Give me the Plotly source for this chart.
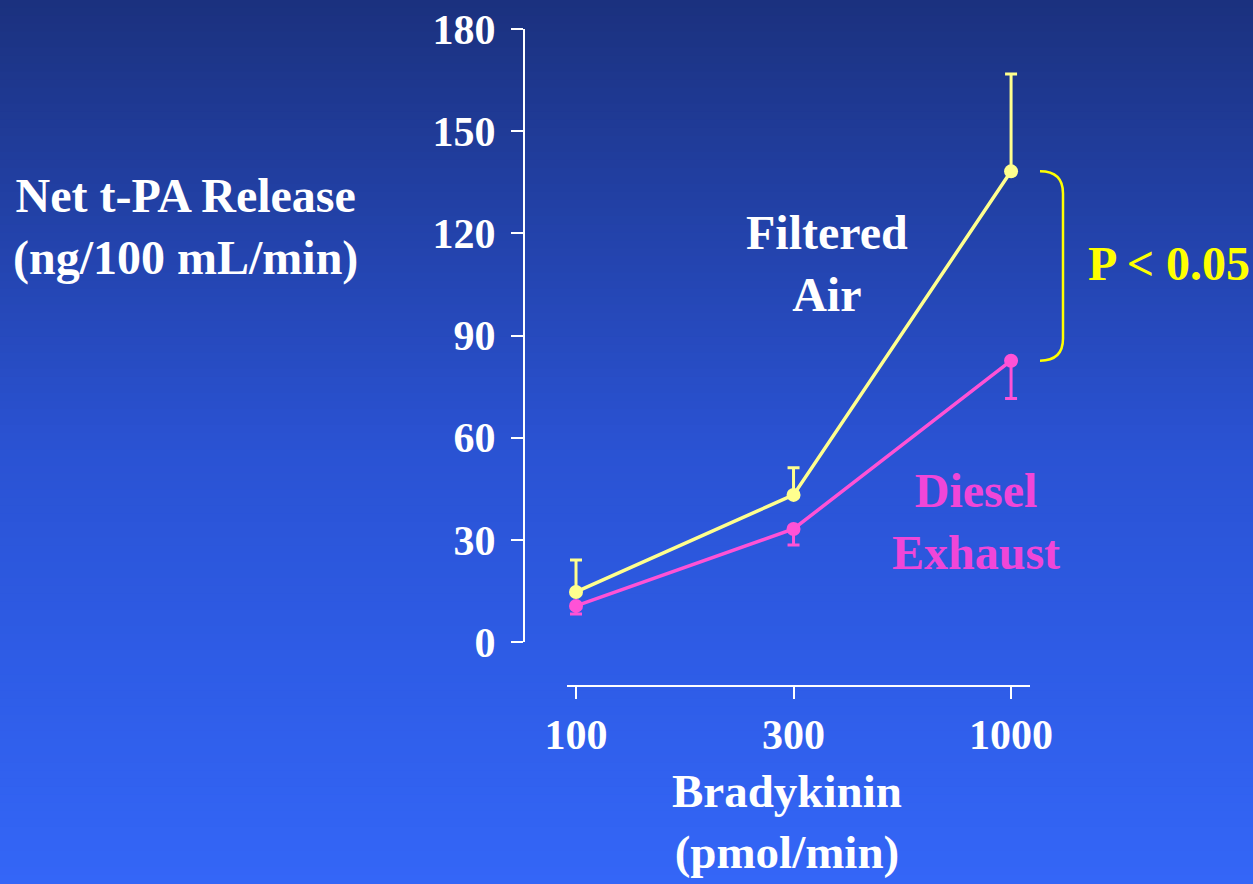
import plotly.graph_objects as go

# ---- data ----
doses = ["100", "300", "1000"]
filtered_air = [14.7, 43.2, 138.2]
filtered_air_err = [9.4, 8.0, 28.6]
diesel = [10.6, 33.2, 82.6]
diesel_err = [2.4, 4.7, 11.1]
y_ticks = [0, 30, 60, 90, 120, 150, 180]

W, H = 1253, 884
def px(x):
    return x / W
def py(y):
    return 1 - y / H

YELLOW = "#ffff8e"
MAGENTA = "#ff52d6"
xpos = list(range(len(doses)))

fig = go.Figure()
fig.add_trace(go.Scatter(
    x=xpos, y=filtered_air, mode="lines+markers",
    line=dict(color=YELLOW, width=3.5),
    marker=dict(color=YELLOW, size=14),
    error_y=dict(type="data", symmetric=False, array=filtered_air_err,
                 arrayminus=[0] * len(doses), color=YELLOW, thickness=3, width=6),
    showlegend=False, cliponaxis=False))
fig.add_trace(go.Scatter(
    x=xpos, y=diesel, mode="lines+markers",
    line=dict(color=MAGENTA, width=3.5),
    marker=dict(color=MAGENTA, size=14),
    error_y=dict(type="data", symmetric=False, array=[0] * len(doses),
                 arrayminus=diesel_err, color=MAGENTA, thickness=3, width=6),
    showlegend=False, cliponaxis=False))

# ---- background gradient ----
def lerp(c1, c2, t):
    return tuple(int(round(a + (b - a) * t)) for a, b in zip(c1, c2))
stops = [(0.0, (27, 49, 126)), (0.5, (42, 82, 210)), (0.75, (46, 92, 230)), (1.0, (52, 102, 247))]
def grad(t):
    for (t0, c0), (t1, c1) in zip(stops[:-1], stops[1:]):
        if t <= t1:
            return lerp(c0, c1, (t - t0) / (t1 - t0))
    return stops[-1][1]
shapes = []
N = 110
for i in range(N):
    t = (i + 0.5) / N
    c = grad(t)
    shapes.append(dict(type="rect", xref="paper", yref="paper",
                       x0=-0.01, x1=1.01, y0=1 - (i + 1) / N - 0.002, y1=1 - i / N + 0.001,
                       fillcolor="rgb(%d,%d,%d)" % c, line=dict(width=0), layer="below"))

# ---- bracket (in data y units) ----
top, bot = filtered_air[2], diesel[2]
bx0, bx1 = px(1040), px(1063)
r = 6.5
path = (f"M {bx0},{top} Q {bx1},{top} {bx1},{top - r} "
        f"L {bx1},{bot + r} Q {bx1},{bot} {bx0},{bot}")
shapes.append(dict(type="path", xref="paper", yref="y", path=path,
                   line=dict(color="#ffff00", width=2.5), layer="above"))

FONT = "Liberation Serif, Times New Roman, serif"
def ann(text, x, y, color="white", size=48):
    return dict(text=text, x=px(x), y=py(y), xref="paper", yref="paper",
                xanchor="center", yanchor="middle", showarrow=False,
                font=dict(family=FONT, size=size, color=color, weight="bold"))

annotations = [
    ann("<b>Net t-PA Release<br>(ng/100 mL/min)</b>", 185, 227),
    ann("<b>Filtered<br>Air</b>", 827, 263),
    ann("<b>Diesel<br>Exhaust</b>", 976, 521, color="#f046d8"),
    ann("<b>P < 0.05</b>", 1169, 263, color="#ffff00"),
    ann("<b>Bradykinin<br>(pmol/min)</b>", 787, 821, size=47),
]

axis_common = dict(showline=True, linecolor="white", linewidth=2, ticks="outside",
                   tickcolor="white", tickwidth=2, ticklen=12, showgrid=False,
                   zeroline=False,
                   tickfont=dict(family=FONT, size=42, color="white", weight="bold"))

fig.update_layout(
    width=W, height=H, margin=dict(l=0, r=0, t=0, b=0, pad=0, autoexpand=False),
    paper_bgcolor="rgb(40,78,200)", plot_bgcolor="rgba(0,0,0,0)",
    shapes=shapes, annotations=annotations,
    xaxis=dict(domain=[px(567), px(1030)], range=[-0.0414, 2.087],
               anchor="free", position=py(686), automargin=False,
               tickmode="array", tickvals=xpos, ticktext=doses,
               ticklabelstandoff=0, **axis_common),
    yaxis=dict(domain=[py(642), py(29)], range=[0, 180],
               anchor="free", position=px(524), automargin=False,
               tickmode="array", tickvals=y_ticks,
               ticklabelstandoff=7, **axis_common),
)

fig.write_html("out.html", config={"displayModeBar": False},
               post_script="document.body.style.margin='0';")
